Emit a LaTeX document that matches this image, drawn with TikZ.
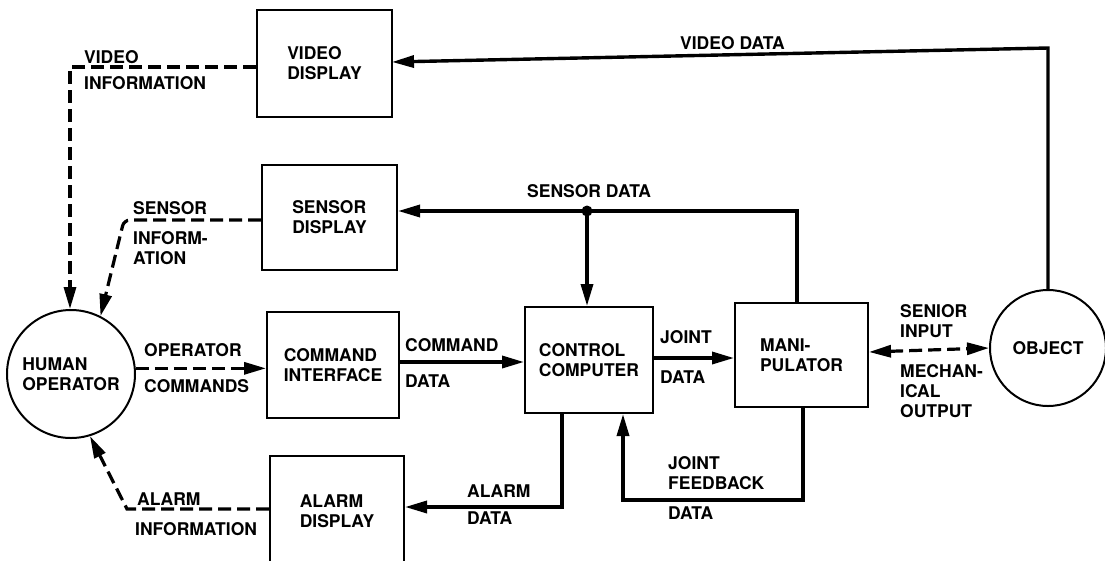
\documentclass[tikz,border=0pt]{standalone}
\usepackage{fontspec}
\setmainfont{TeX Gyre Heros}
\usetikzlibrary{arrows.meta}
\begin{document}
\begin{tikzpicture}[x=1pt,y=-1pt,
  every node/.style={font=\fontsize{17.5}{20}\selectfont\bfseries, inner sep=0pt},
  blk/.style={draw, line width=2pt, align=left},
  circ/.style={draw, circle, line width=2pt, align=left},
  sline/.style={line width=3.4pt},
  dline/.style={line width=3.2pt, dash pattern=on 13pt off 6pt},
  tip/.style={-{Triangle[length=22pt,width=12pt]}},
  lbl/.style={anchor=west, align=left}]
\useasboundingbox (0,0) rectangle (1105,560);

% blocks
\node[blk, minimum width=135pt, minimum height=107pt] (vd) at (324.5,63.5) {VIDEO\\DISPLAY};
\node[blk, minimum width=135pt, minimum height=105pt] (sd) at (329.5,217.5) {SENSOR\\DISPLAY};
\node[blk, minimum width=132pt, minimum height=106pt] (ci) at (333,365) {COMMAND\\INTERFACE};
\node[blk, minimum width=134pt, minimum height=110pt] (ad) at (337,511) {ALARM\\DISPLAY};
\node[blk, minimum width=128pt, minimum height=106pt] (cc) at (589,360) {CONTROL\\COMPUTER};
\node[blk, minimum width=133pt, minimum height=104pt] (man) at (801.5,355) {MANI-\\PULATOR};
\node[circ, minimum size=128pt] (human) at (71,374) {HUMAN\\OPERATOR};
\node[circ, minimum size=116pt] (obj) at (1048,348) {OBJECT};

% bend points
\coordinate (vtop) at (1048,48);
\coordinate (vin) at (392,62);
\coordinate (stop) at (797,211);
\coordinate (jn) at (587,211);
\coordinate (fbr) at (803,500);
\coordinate (fbl) at (623,500);
\coordinate (alr) at (562,507);
\coordinate (vi) at (70,67);
\coordinate (si) at (124,220);
\coordinate (ai) at (127,509);

% solid connectors
\draw[sline, tip] (obj.north) -- (vtop) -- (vin);
\draw[sline, tip] (man.north -| stop) -- (stop) -- (sd.east |- stop);
\draw[sline, tip] (jn) -- (jn |- cc.north);
\fill (jn) circle (5.5pt);
\draw[sline, tip] (ci.east |- 0,362) -- (cc.west |- 0,362);
\draw[sline, tip] (cc.east |- 0,358) -- (man.west |- 0,358);
\draw[sline, tip] (man.south -| fbr) -- (fbr) -- (fbl) -- (fbl |- cc.south);
\draw[sline, tip] (cc.south -| alr) -- (alr) -- (ad.east |- alr);

% dashed connectors
\draw[dline, {Triangle[length=22pt,width=12pt]}-{Triangle[length=22pt,width=12pt]}] (man.east |- 0,352) -- (obj.west);
\draw[dline, tip] (human.5) -- (ci.west |- human.5);
\draw[dline, tip] (ad.west |- ai) -- (ai) -- (human.-73);
\draw[dline, tip] (vd.west |- vi) -- (vi) -- (vi |- human.north);
\draw[dline, tip, rounded corners=6pt] (sd.west |- si) -- (si) -- (human.63);

% labels
\node[lbl] (l1) at (680,43) {VIDEO DATA};
\node[lbl] (l2) at (84,57) {VIDEO};
\node[lbl] (l3) at (84,83) {INFORMATION};
\node[lbl] (l4) at (133,208) {SENSOR};
\node[lbl] (l5) at (133,248) {INFORM-\\ATION};
\node[lbl] (l6) at (144,350) {OPERATOR};
\node[lbl] (l7) at (144,386) {COMMANDS};
\node[lbl] (l8) at (137,499) {ALARM};
\node[lbl] (l9) at (135,529) {INFORMATION};
\node[lbl] (l10) at (527,191) {SENSOR DATA};
\node[lbl] (l11) at (405,345) {COMMAND};
\node[lbl] (l12) at (405,381) {DATA};
\node[lbl] (l13) at (660,337) {JOINT};
\node[lbl] (l14) at (660,377) {DATA};
\node[lbl] (l15) at (668,473) {JOINT\\FEEDBACK};
\node[lbl] (l16) at (668,513) {DATA};
\node[lbl] (l17) at (467,491) {ALARM};
\node[lbl] (l18) at (467,518) {DATA};
\node[lbl] (l19) at (900,321) {SENIOR\\INPUT};
\node[lbl] (l20) at (900,391) {MECHAN-\\ICAL\\OUTPUT};
\end{tikzpicture}
\end{document}
